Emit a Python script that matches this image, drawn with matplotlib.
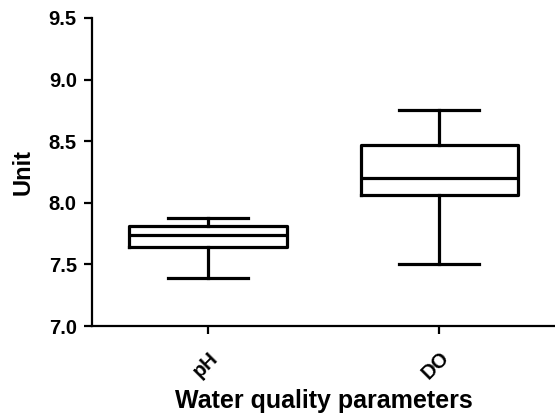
import matplotlib.pyplot as plt

plt.rcParams["font.family"] = ["Liberation Sans", "DejaVu Sans"]
plt.rcParams["font.weight"] = "bold"

# Box statistics
params = ["pH", "DO"]
whisker_low = [7.39, 7.50]
q1 = [7.64, 8.06]
median = [7.74, 8.20]
q3 = [7.81, 8.47]
whisker_high = [7.88, 8.75]

stats = [
    dict(label=p, whislo=lo, q1=a, med=m, q3=b, whishi=hi)
    for p, lo, a, m, b, hi in zip(params, whisker_low, q1, median, q3, whisker_high)
]

fig = plt.figure(figsize=(5.55, 4.18), dpi=100)
ax = fig.add_axes([0.166, 0.22, 0.834, 0.737])

lw = 2.3
ax.bxp(
    stats,
    positions=[1, 2],
    widths=0.68,
    capwidths=0.345,
    showfliers=False,
    boxprops=dict(color="black", linewidth=lw),
    whiskerprops=dict(color="black", linewidth=lw),
    capprops=dict(color="black", linewidth=lw),
    medianprops=dict(color="black", linewidth=lw),
)

ax.set_xlim(0.5, 2.5)
ax.set_ylim(7.0, 9.5)
ax.set_yticks([7.0, 7.5, 8.0, 8.5, 9.0, 9.5])
ax.set_yticklabels(["7.0", "7.5", "8.0", "8.5", "9.0", "9.5"])
ax.set_xticks([1, 2])
ax.set_xticklabels(params, rotation=45, ha="right", rotation_mode="anchor")

for s in ["top", "right"]:
    ax.spines[s].set_visible(False)
for s in ["left", "bottom"]:
    ax.spines[s].set_linewidth(1.6)
ax.tick_params(width=1.6, length=6, labelsize=14.5, direction="out")
ax.tick_params(axis="y", pad=5)
ax.tick_params(axis="x", pad=10)

ax.set_ylabel("Unit", fontsize=17, fontweight="bold", labelpad=10)
ax.set_xlabel("Water quality parameters", fontsize=18, fontweight="bold", labelpad=4)

fig.savefig("out.png", dpi=100)
